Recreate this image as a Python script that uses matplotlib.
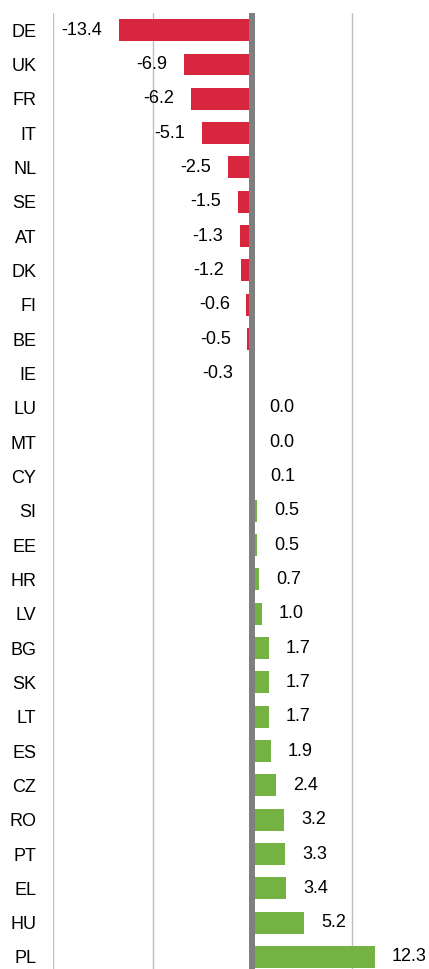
import matplotlib.pyplot as plt
import numpy as np

plt.rcParams['font.family'] = ['Liberation Sans', 'DejaVu Sans']

countries = ['DE', 'UK', 'FR', 'IT', 'NL', 'SE', 'AT', 'DK', 'FI', 'BE', 'IE',
             'LU', 'MT', 'CY', 'SI', 'EE', 'HR', 'LV', 'BG', 'SK', 'LT', 'ES',
             'CZ', 'RO', 'PT', 'EL', 'HU', 'PL']
values = [-13.4, -6.9, -6.2, -5.1, -2.5, -1.5, -1.3, -1.2, -0.6, -0.5, -0.3,
          0.0, 0.0, 0.1, 0.5, 0.5, 0.7, 1.0, 1.7, 1.7, 1.7, 1.9,
          2.4, 3.2, 3.3, 3.4, 5.2, 12.3]

red = '#D7263D'
green = '#74B244'

W, H = 429, 969
fig = plt.figure(figsize=(W / 100, H / 100), dpi=100)
ax = fig.add_axes([53 / W, 0, 1 - 53 / W, 1 - 13 / H])

y = np.arange(len(countries))
colors = [red if v < 0 else green for v in values]
ax.barh(y, values, height=0.64, color=colors, zorder=2)

ax.set_xlim(-20, 17.7)
ax.set_ylim(27.35, -0.5)
ax.set_xticks([-20, -10, 10])
ax.xaxis.grid(True, color='#BFBFBF', linewidth=1)
ax.set_xticklabels([])
ax.tick_params(axis='x', length=0)
ax.axvline(0, color='#7F7F7F', linewidth=4.3, zorder=3)

ax.set_yticks(y)
ax.set_yticklabels(countries, fontsize=13)
ax.tick_params(axis='y', length=0, pad=12)

for s in ax.spines.values():
    s.set_visible(False)

for i, v in enumerate(values):
    if v < 0:
        ax.annotate(f'{v:.1f}', (v, i), xytext=(-12, 0), textcoords='offset points',
                    ha='right', va='center', fontsize=13, zorder=4)
    else:
        ax.annotate(f'{v:.1f}', (v, i), xytext=(12, 0), textcoords='offset points',
                    ha='left', va='center', fontsize=13, zorder=4)

plt.savefig('out.png', dpi=100)
